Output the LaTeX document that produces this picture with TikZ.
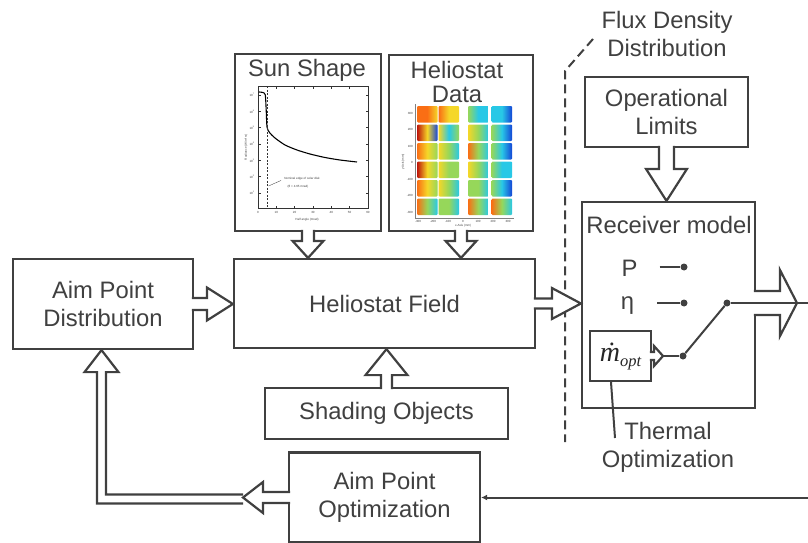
\documentclass[tikz,border=0pt]{standalone}
\usepackage{fontspec}
\setmainfont{Liberation Sans}
\newfontfamily\timesit{Liberation Serif}[UprightFont=*-Italic]
\usetikzlibrary{calc,arrows.meta}

\definecolor{ink}{HTML}{404040}
\definecolor{jr}{RGB}{190,20,10}
\definecolor{jo}{RGB}{250,110,20}
\definecolor{jy}{RGB}{245,215,40}
\definecolor{jg}{RGB}{150,215,90}
\definecolor{jc}{RGB}{40,200,230}
\definecolor{jb}{RGB}{20,70,215}

\newcommand{\labelfont}{\fontsize{23.8}{28.5}\selectfont}
% hollow block arrow: from, tip, shaft half width, head half width, head length
\newcommand{\blockarrow}[5]{%
  \draw[hollow] let \p1=(#1), \p2=(#2) in
    ($(\p1)!-2.2pt!(\p2)!#3!90:(\p2)$) -- ($(\p2)!#5!(\p1)!#3!-90:(\p1)$)
    -- ($(\p2)!#5!(\p1)!#4!-90:(\p1)$) -- (\p2) -- ($(\p2)!#5!(\p1)!#4!90:(\p1)$)
    -- ($(\p2)!#5!(\p1)!#3!90:(\p1)$) -- ($(\p1)!-2.2pt!(\p2)!#3!-90:(\p2)$);}

\tikzset{
  box/.style={draw=ink, line width=2.2pt, fill=white, inner sep=0pt, align=center, font=\labelfont, text=ink},
  caption/.style={inner sep=0pt, align=center, font=\labelfont, text=ink},
  hollow/.style={draw=ink, line width=2.2pt, fill=white},
  wire/.style={draw=ink, line width=2pt},
  dot/.style={circle, fill=ink, inner sep=0pt, minimum size=7pt},
  ticklabel/.style={inner sep=0pt, font=\fontsize{3}{3.6}\selectfont, text=black!75},
}

\begin{document}
\begin{tikzpicture}[x=1pt,y=-1pt]
  \useasboundingbox (0,0) rectangle (808,543);

  % blocks
  \node[box, minimum width=146pt, minimum height=177pt] (sun) at (308,142.5) {};
  \node[box, minimum width=144pt, minimum height=176pt] (hdata) at (461,143) {};
  \node[box, minimum width=301pt, minimum height=89pt] (field) at (384.5,303.5) {Heliostat Field};
  \node[box, minimum width=243pt, minimum height=51pt] (shading) at (386.5,413.5) {Shading Objects};
  \node[box, minimum width=191pt, minimum height=90pt] (aimopt) at (384.5,497.5) {Aim Point\\Optimization};
  \node[box, minimum width=180pt, minimum height=90pt] (aimdist) at (103,304) {Aim Point\\Distribution};
  \node[box, minimum width=163pt, minimum height=70pt] (oplim) at (666.5,112) {Operational\\Limits};
  \node[box, minimum width=173pt, minimum height=206pt] (receiver) at (668.5,305) {};
  \node[box, minimum width=61pt, minimum height=50pt, font=\timesit\fontsize{28}{30}\selectfont, text=black!85] (mdot) at (620.5,356)
    {ṁ{\fontsize{16.5}{18}\selectfont\raisebox{-5pt}{opt}}};

  \node[caption, anchor=base] (suntitle) at (307,76) {Sun Shape};
  \node[caption, font=\fontsize{23.8}{24}\selectfont] (hdtitle) at (457,81.5) {Heliostat\\Data};
  \node[caption] (rectitle) at (669,224.5) {Receiver model};
  \node[caption] (flux) at (667,34) {Flux Density\\Distribution};
  \node[caption] (thermal) at (668,447.5) {Thermal\\Optimization};

  % sun shape plot
  \draw[line width=0.5pt, black!80] (258,86) rectangle (368,208);
  \foreach \t in {0,10,...,60} {
    \draw[line width=0.4pt, black!80] ({258+1.833*\t},208) -- ++(0,-2.5);
    \draw[line width=0.4pt, black!80] ({258+1.833*\t},86) -- ++(0,2.5);
    \node[ticklabel] at ({258+1.833*\t},212.5) {\t};
  }
  \foreach \e [count=\i from 0] in {7,6,...,1} {
    \draw[line width=0.4pt, black!80] (258,{95+16.33*\i}) -- ++(2.5,0);
    \draw[line width=0.4pt, black!80] (368,{95+16.33*\i}) -- ++(-2.5,0);
    \node[ticklabel] at (252,{95+16.33*\i}) {10\textsuperscript{\e}};
  }
  \draw[line width=1.1pt, black] plot[smooth, tension=0.4] coordinates {(259,92) (263,92.5) (265.3,95) (266.2,110) (267,127) (269.5,132.5) (275,138) (285,145) (297,150) (310,154) (325,157.5) (340,160) (357,162)};
  \draw[line width=0.5pt, black!80, dash pattern=on 2pt off 1.5pt] (267,86) -- (267,208);
  \node[ticklabel] at (302,179) {Nominal edge of solar disk};
  \node[ticklabel] at (298,187) {(θ = 4.65 mrad)};
  \draw[line width=0.3pt, black!80] (281,180.5) -- (268.5,186);
  \node[ticklabel] at (307,220) {Half angle (mrad)};
  \node[ticklabel, rotate=90] at (246,147) {Radiance (W/m² sr)};

  % heliostat flux maps
  \draw[line width=0.3pt, black!50] (415,104) -- (415,218) -- (514,218);
  \foreach \tx/\row/\la/\lb/\lc in {
    417/0/jo/jo/jy, 417/1/jr/jy/jb, 417/2/jo/jy/jg, 417/3/jr/jy/jg, 417/4/jo/jy/jg, 417/5/jo/jg/jc,
    438.5/0/jo/jy/jy, 438.5/1/jy/jc/jg, 438.5/2/jy/jg/jc, 438.5/3/jy/jg/jg, 438.5/4/jy/jg/jc, 438.5/5/jg/jg/jc,
    468/0/jg/jc/jc, 468/1/jy/jg/jc, 468/2/jo/jg/jc, 468/3/jy/jg/jc, 468/4/jg/jg/jc, 468/5/jo/jg/jc,
    491.5/0/jc/jc/jb, 491.5/1/jg/jc/jb, 491.5/2/jg/jc/jb, 491.5/3/jg/jc/jc, 491.5/4/jg/jc/jb, 491.5/5/jo/jg/jc}
    \shade[left color=\la, right color=\lc, middle color=\lb, rounded corners=1pt] (\tx,{106+18.5*\row}) rectangle ++(20.5,16.5);
  \foreach \v [count=\i from 0] in {300,200,100,0,-100,-200,-300}
    \node[ticklabel, anchor=east] at (413,{113+16.5*\i}) {\v};
  \foreach \v [count=\i from 0] in {-300,-200,-100,0,100,200,300}
    \node[ticklabel] at ({418+15*\i},221) {\v};
  \node[ticklabel] at (463,225.5) {x-Axis (mm)};
  \node[ticklabel, rotate=90] at (403,162) {y-Axis (mm)};

  % flux density boundary
  \coordinate (fluxa) at (593,39);
  \coordinate (fluxb) at (565,71);
  \coordinate (fluxc) at (565,442);
  \draw[draw=ink, line width=2pt, dash pattern=on 9pt off 5pt] (fluxa) -- (fluxb) -- (fluxc);

  % block arrows
  \blockarrow{sun.south}{sun.south |- field.north}{6pt}{15.5pt}{17pt}
  \blockarrow{hdata.south}{hdata.south |- field.north}{6pt}{15.5pt}{17pt}
  \blockarrow{shading.north}{shading.north |- field.south}{5.5pt}{21pt}{26pt}
  \blockarrow{aimdist.east}{aimdist.east -| field.west}{6pt}{16.5pt}{26pt}
  \blockarrow{field.east}{field.east -| receiver.west}{5pt}{15.5pt}{29pt}
  \blockarrow{oplim.south}{oplim.south |- receiver.north}{7.5pt}{20.5pt}{32pt}

  % receiver switch
  \node[dot] (pdot) at (684,267) {};
  \node[dot] (etadot) at (684,303) {};
  \node[dot] (swlow) at (683,356) {};
  \node[dot] (pivot) at (727,303) {};
  \node[caption, anchor=base] (plab) at (629.5,276.5) {P};
  \node[caption, anchor=base] (etalab) at (627.5,309.5) {η};
  \draw[wire, shorten <=22pt] (plab.east |- pdot) -- (pdot);
  \draw[wire, shorten <=23pt] (etalab.east |- etadot) -- (etadot);
  \draw[wire] (swlow) -- (pivot);
  \coordinate (mtip) at (663,356);
  \blockarrow{mdot.east}{mtip}{4pt}{10pt}{9pt}
  \draw[wire] (mtip) -- (swlow);
  \coordinate (outtip) at (797,303);
  \coordinate (outend) at (808,303);
  \blockarrow{receiver.east |- pivot}{outtip}{12pt}{33pt}{17pt}
  \draw[wire] (pivot) -- (outend);
  \coordinate (thermlead) at (615,438);
  \draw[wire] ([xshift=-9.5pt]mdot.south) -- (thermlead);

  % optimisation loop
  \coordinate (fbtip) at (243,497.5);
  \coordinate (fbcorner) at (101.5,499);
  \draw[hollow] let \p1=(fbtip), \p2=(fbcorner), \p3=(aimdist.south) in
    (\x1,\y2+4.5pt) -- (\x2+4.5pt,\y2+4.5pt) -- (\x2+4.5pt,\y3-22pt) -- (\x2+17pt,\y3-22pt) -- (\x2,\y3)
    -- (\x2-17pt,\y3-22pt) -- (\x2-4.5pt,\y3-22pt) -- (\x2-4.5pt,\y2-4.5pt) -- (\x1,\y2-4.5pt);
  \blockarrow{aimopt.west}{fbtip}{5.5pt}{15.5pt}{20pt}
  \coordinate (fbin) at (808,497.5);
  \draw[wire, -{Latex[length=6pt,width=6pt]}] (fbin) -- (aimopt.east);
\end{tikzpicture}
\end{document}
